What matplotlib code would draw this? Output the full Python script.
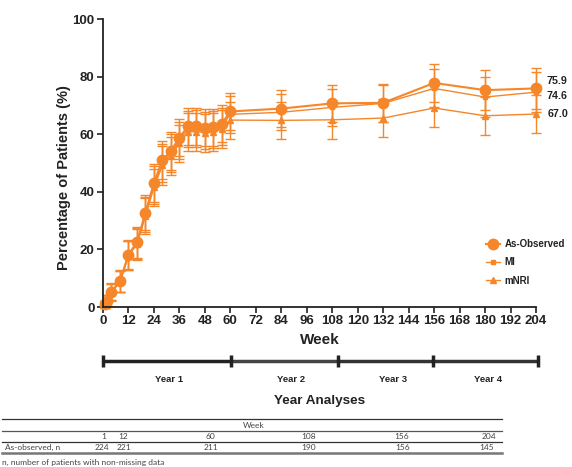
import matplotlib
matplotlib.use("Agg")
import matplotlib.pyplot as plt
from matplotlib.lines import Line2D

plt.rcParams['font.family'] = ['Liberation Sans', 'DejaVu Sans']

weeks = [1, 2, 4, 8, 12, 16, 20, 24, 28, 32, 36, 40, 44, 48, 52, 56, 60, 84, 108, 132, 156, 180, 204]
ao = [0.9, 2.2, 5.3, 9.0, 18.2, 22.5, 32.7, 43.1, 51.0, 54.2, 58.8, 62.7, 62.8, 62.3, 62.4, 63.7,
      67.9, 68.9, 70.7, 70.9, 77.8, 75.3, 75.9]
mi = [0.9, 2.2, 5.2, 8.9, 18.0, 22.2, 32.2, 42.3, 50.0, 53.4, 57.8, 61.8, 61.9, 61.4, 61.6, 62.8,
      66.9, 67.6, 69.3, 70.7, 75.9, 72.9, 74.6]
mnri = [0.9, 2.2, 5.1, 8.8, 17.8, 21.8, 31.6, 41.5, 49.2, 52.5, 56.8, 60.8, 60.9, 60.5, 60.7, 61.8,
        64.9, 64.8, 65.0, 65.6, 69.1, 66.4, 67.0]
ao_err = [1.3, 1.9, 2.9, 3.7, 5.0, 5.4, 6.1, 6.5, 6.7, 6.6, 6.5, 6.4, 6.4, 6.4, 6.4, 6.4,
          6.3, 6.4, 6.5, 6.5, 6.6, 6.9, 7.0]
mi_err = [1.3, 1.9, 2.9, 3.7, 5.0, 5.4, 6.1, 6.5, 6.7, 6.6, 6.5, 6.4, 6.4, 6.4, 6.4, 6.4,
          6.4, 6.3, 6.5, 6.5, 6.6, 6.9, 7.0]
mnri_err = [1.3, 1.9, 2.9, 3.7, 5.0, 5.4, 6.1, 6.5, 6.7, 6.6, 6.5, 6.6, 6.6, 6.6, 6.6, 6.5,
            6.4, 6.3, 6.5, 6.5, 6.5, 6.6, 6.5]

x_ticks = list(range(0, 205, 12))
y_ticks = [0, 20, 40, 60, 80, 100]
year_labels = ['Year 1', 'Year 2', 'Year 3', 'Year 4']
year_bounds = [0, 60.5, 110.7, 155.7, 204.8]
year_label_pos = [60.5 / 2 + 1, 88.5, 136.5, 181.5]

table_weeks = ['1', '12', '60', '108', '156', '204']
table_n = ['224', '221', '211', '190', '156', '145']
table_wpos = [104, 123, 210.7, 309, 401.7, 489]
table_npos = [102, 124, 210.7, 309, 402.7, 487]

orange = '#F5862A'
W, H = 572, 467
fig = plt.figure(figsize=(W / 100, H / 100), dpi=100)

def fy(py):
    return 1 - py / H

def fx(px):
    return px / W

ax = fig.add_axes([fx(103), fy(307), fx(536) - fx(103), fy(19) - fy(307)])

common = dict(color=orange, ecolor=orange, elinewidth=1.0, capsize=3.3, capthick=1.0, clip_on=False)
ax.errorbar(weeks, mnri, yerr=mnri_err, fmt='-^', ms=4.5, lw=1.0, **common)
ax.errorbar(weeks, mi, yerr=mi_err, fmt='-s', ms=3.5, lw=1.0, **common)
ax.errorbar(weeks, ao, yerr=ao_err, fmt='-o', ms=7.5, lw=1.5, **common)

ax.set_xlim(0, 204)
ax.set_ylim(0, 100)
ax.set_xticks(x_ticks)
ax.set_yticks(y_ticks)
for s in ['top', 'right']:
    ax.spines[s].set_visible(False)
for s in ['left', 'bottom']:
    ax.spines[s].set_linewidth(1.3)
    ax.spines[s].set_color('#222222')
ax.tick_params(axis='both', length=4, width=1.2, color='#222222', labelsize=9.5, pad=2)
for lbl in ax.get_xticklabels() + ax.get_yticklabels():
    lbl.set_fontweight('bold')
    lbl.set_color('#222222')

ax.set_ylabel('Percentage of Patients (%)', fontsize=10.5, fontweight='bold', color='#222222')
ax.yaxis.set_label_coords(-0.075, 0.45)
ax.set_xlabel('Week', fontsize=11, fontweight='bold', color='#222222', labelpad=4)

handles = [Line2D([], [], color=orange, marker='o', ms=7.5, lw=1.5),
           Line2D([], [], color=orange, marker='s', ms=3.5, lw=1.0),
           Line2D([], [], color=orange, marker='^', ms=4.5, lw=1.0)]
labels = ['As-Observed', 'MI', 'mNRI']
leg = ax.legend(handles, labels, loc='upper left',
                bbox_to_anchor=((486 - 103) / 433, (307 - 239) / 288), frameon=False,
                prop={'weight': 'bold', 'size': 7}, handlelength=1.4, handletextpad=0.5,
                labelspacing=0.85, borderaxespad=0, borderpad=0)
for t in leg.get_texts():
    t.set_color('#222222')

for series, dy, dx in [(ao, 5.3, 7.7), (mi, -3.0, 7.7), (mnri, 0, 8.6)]:
    ax.annotate(f'{series[-1]:.1f}', xy=(weeks[-1], series[-1]), xytext=(dx, dy),
                textcoords='offset points', ha='left', va='center', fontsize=7.7,
                fontweight='bold', color='#222222', annotation_clip=False)

# Year bar
ax2 = fig.add_axes([fx(103), fy(367), fx(536) - fx(103), fy(355) - fy(367)])
ax2.set_xlim(0, 204)
ax2.set_ylim(-1, 1)
ax2.axis('off')
seg_colors = ['#222222', '#444444', '#333333', '#333333']
for i in range(4):
    ax2.plot([year_bounds[i], year_bounds[i + 1]], [0, 0], color=seg_colors[i], lw=2.5,
             solid_capstyle='butt', clip_on=False)
for b in year_bounds:
    ax2.plot([b, b], [-1, 1], color='#222222', lw=2.5, clip_on=False, solid_capstyle='butt')
for lab, pos in zip(year_labels, year_label_pos):
    fig.text(fx(103 + pos * 433 / 204), fy(380), lab, ha='center', va='center',
             fontsize=6.8, fontweight='bold', color='#222222')
fig.text(fx(319.5), fy(400.7), 'Year Analyses', ha='center', va='center', fontsize=9.7,
         fontweight='bold', color='#222222')

# Table
tfont = ['Lato', 'DejaVu Sans']
tcol = '#444444'
def hline(py, lw, color):
    fig.add_artist(Line2D([fx(2), fx(502)], [fy(py), fy(py)], lw=lw, color=color))
hline(419.3, 0.9, '#333333')
hline(430.7, 0.9, '#555555')
hline(441.7, 0.9, '#333333')
hline(453.3, 1.8, '#777777')
fig.text(fx(254), fy(426), 'Week', ha='center', va='center', fontsize=6, family=tfont, color=tcol)
for t, p in zip(table_weeks, table_wpos):
    fig.text(fx(p), fy(436.7), t, ha='center', va='center', fontsize=6, family=tfont, color=tcol)
fig.text(fx(5), fy(447.7), 'As-observed, n', ha='left', va='center', fontsize=6, family=tfont, color=tcol)
for t, p in zip(table_n, table_npos):
    fig.text(fx(p), fy(447.7), t, ha='center', va='center', fontsize=6, family=tfont, color=tcol)
fig.text(fx(2), fy(462.5), 'n, number of patients with non-missing data', ha='left', va='center',
         fontsize=6, family=tfont, color=tcol)

fig.savefig('out.png', dpi=100)
